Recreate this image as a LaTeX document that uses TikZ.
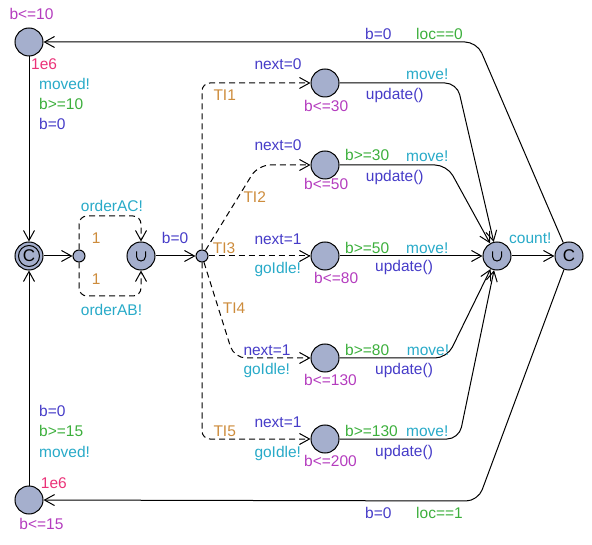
\documentclass[tikz,border=0pt]{standalone}
\usepackage{fontspec}
\setmainfont{Liberation Sans}
\usetikzlibrary{arrows.meta,calc}
\definecolor{invc}{RGB}{180,60,190}
\definecolor{ratec}{RGB}{235,50,120}
\definecolor{syncc}{RGB}{40,170,200}
\definecolor{guardc}{RGB}{60,175,60}
\definecolor{updc}{RGB}{70,60,200}
\definecolor{probc}{RGB}{205,140,60}
\definecolor{locfill}{RGB}{165,175,205}
\begin{document}
\begin{tikzpicture}[x=1pt,y=-1pt,
  locn/.style={circle,draw,fill=locfill,minimum size=28pt,inner sep=0pt,line width=1pt},
  branch/.style={circle,draw,fill=locfill,minimum size=12pt,inner sep=0pt,line width=1pt},
  conn/.style={line width=1pt,-{Straight Barb[length=10pt,width=11pt,line width=1pt]}},
  probe/.style={conn,dash pattern=on 6pt off 4pt},
  lbl/.style={anchor=base west,inner sep=0pt,font=\fontsize{15.5}{18}\selectfont},
  inv/.style={lbl,text=invc},
  rate/.style={lbl,text=ratec},
  sync/.style={lbl,text=syncc},
  guard/.style={lbl,text=guardc},
  upd/.style={lbl,text=updc},
  pr/.style={lbl,text=probc},
  bigc/.style={font=\fontsize{17}{17}\selectfont}
]
\useasboundingbox (0,0) rectangle (592,545);
% locations
\node[locn] (A) at (29,42) {};
\node[locn,bigc] (B) at (29,256) {C};
\draw[line width=1pt] (B.center) circle[radius=10.5pt];
\node[locn] (C) at (29,500) {};
\node[branch] (D) at (79,256) {};
\node[locn] (E) at (141,256) {};
\node[branch] (F) at (202,256) {};
\node[locn] (L1) at (325,83) {};
\node[locn] (L2) at (325,165) {};
\node[locn] (L3) at (325,256) {};
\node[locn] (L4) at (325,358) {};
\node[locn] (L5) at (325,439) {};
\node[locn] (U) at (497,256) {};
\node[locn,bigc] (K) at (569,256) {C};
% urgent marks
\draw[line width=1pt] ($(E)+(-4.5,-4.5)$) -- ($(E)+(-4.5,0.5)$) .. controls ($(E)+(-4.5,6.5)$) and ($(E)+(4.5,6.5)$) .. ($(E)+(4.5,0.5)$) -- ($(E)+(4.5,-4.5)$);
\draw[line width=1pt] ($(U)+(-4.5,-4.5)$) -- ($(U)+(-4.5,0.5)$) .. controls ($(U)+(-4.5,6.5)$) and ($(U)+(4.5,6.5)$) .. ($(U)+(4.5,0.5)$) -- ($(U)+(4.5,-4.5)$);
% edges
\draw[conn] (A) -- (B);
\draw[conn] (C) -- (B);
\draw[conn] (B) -- (D);
\draw[probe,rounded corners=8pt] (D) -- (79,216) -- (141,216) -- (E);
\draw[probe,rounded corners=8pt] (D) -- (79,296) -- (141,296) -- (E);
\draw[conn] (E) -- (F);
\draw[probe,rounded corners=8pt] (F) -- (202,83) -- (L1);
\draw[probe,rounded corners=12pt] (F) -- (258,165) -- (L2);
\draw[probe] (F) -- (L3);
\draw[probe,rounded corners=12pt] (F) -- (234,358) -- (L4);
\draw[probe,rounded corners=8pt] (F) -- (202,439) -- (L5);
\draw[conn,rounded corners=12pt] (L1) -- (457,83) -- (U);
\draw[conn,rounded corners=12pt] (L2) -- (447,165) -- (U);
\draw[conn] (L3) -- (U);
\draw[conn,rounded corners=12pt] (L4) -- (447,358) -- (U);
\draw[conn,rounded corners=12pt] (L5) -- (459,439) -- (U);
\draw[conn] (U) -- (K);
\draw[conn,rounded corners=12pt] (K) -- (477,42) -- (A);
\draw[conn,rounded corners=12pt] (K) -- (478,501) -- (C);
% labels A
\node[inv] (tA1) at (9.3,20) {b<=10};
\node[rate] (tA2) at (31,70) {1e6};
\node[sync] (tA3) at (39,90) {moved!};
\node[guard] (tA4) at (39,110) {b>=10};
\node[upd] (tA5) at (39,130) {b=0};
% labels C
\node[upd] (tC1) at (39,416.7) {b=0};
\node[guard] (tC2) at (39,436.7) {b>=15};
\node[sync] (tC3) at (39,457.3) {moved!};
\node[rate] (tC4) at (40.7,488.3) {1e6};
\node[inv] (tC5) at (19.3,529.3) {b<=15};
% D-E
\node[sync] (tD1) at (80.7,211.7) {orderAC!};
\node[pr] (tD2) at (91.7,244) {1};
\node[pr] (tD3) at (91.7,285) {1};
\node[sync] (tD4) at (80.7,316) {orderAB!};
\node[upd] (tE1) at (161.7,243.3) {b=0};
% F edges
\node[pr] (tF1) at (213.3,100.7) {TI1};
\node[upd] (tF1b) at (254.3,69.3) {next=0};
\node[pr] (tF2) at (243.3,203) {TI2};
\node[upd] (tF2b) at (254.3,151) {next=0};
\node[pr] (tF3) at (212.7,253.3) {TI3};
\node[upd] (tF3b) at (254.3,244.3) {next=1};
\node[sync] (tF3c) at (254.3,274) {goIdle!};
\node[pr] (tF4) at (222.7,313.3) {TI4};
\node[upd] (tF4b) at (243.3,355.7) {next=1};
\node[sync] (tF4c) at (243.3,375) {goIdle!};
\node[pr] (tF5) at (213.3,436.7) {TI5};
\node[upd] (tF5b) at (254.3,427.3) {next=1};
\node[sync] (tF5c) at (254.3,457.3) {goIdle!};
% invariants
\node[inv] (i1) at (304,111.7) {b<=30};
\node[inv] (i2) at (304,190) {b<=50};
\node[inv] (i3) at (314,283.3) {b<=80};
\node[inv] (i4) at (304,385) {b<=130};
\node[inv] (i5) at (304,466.7) {b<=200};
% edges to U
\node[sync] (m1) at (406,80) {move!};
\node[upd] (u1) at (365.7,99.3) {update()};
\node[guard] (g2) at (345,161) {b>=30};
\node[sync] (m2) at (406,161.7) {move!};
\node[upd] (u2) at (365.7,181.7) {update()};
\node[guard] (g3) at (345,253.3) {b>=50};
\node[sync] (m3) at (406,253.3) {move!};
\node[upd] (u3) at (375,271.7) {update()};
\node[guard] (g4) at (345,356) {b>=80};
\node[sync] (m4) at (406.7,356) {move!};
\node[upd] (u4) at (375,375) {update()};
\node[guard] (g5) at (345,436) {b>=130};
\node[sync] (m5) at (406,436) {move!};
\node[upd] (u5) at (375,456.7) {update()};
\node[sync] (cnt) at (509,243.3) {count!};
\node[upd] (kb1) at (365,39.3) {b=0};
\node[guard] (kl1) at (416,39.3) {loc==0};
\node[upd] (kb2) at (365,518.3) {b=0};
\node[guard] (kl2) at (416,518.3) {loc==1};
\end{tikzpicture}
\end{document}
